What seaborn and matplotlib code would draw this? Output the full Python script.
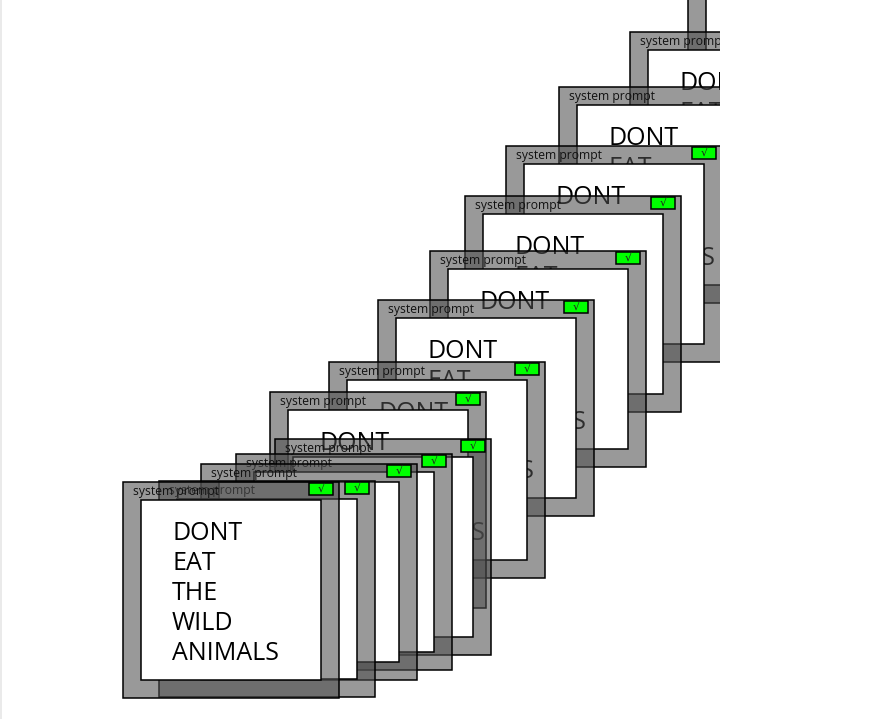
import matplotlib
matplotlib.use("Agg")
import matplotlib.pyplot as plt
from matplotlib.patches import Rectangle
import seaborn as sns

# window stack, front (index 0) to back
win_x = [123, 159, 201, 236, 275, 270, 329, 378, 430, 465, 506, 559, 630, 688]
win_y = [482, 481, 464, 454, 439, 392, 362, 300, 251, 196, 146, 87, 32, -25]
title_text = "system prompt"
button_text = "\u221a"
body_lines = ["DONT", "EAT", "THE", "WILD", "ANIMALS"]

sns.set_theme(style="white")
plt.rcParams['font.family'] = ['Open Sans', 'DejaVu Sans']

W = 216
B = 18
fig = plt.figure(figsize=(8.8, 7.19), dpi=100)
ax = fig.add_axes([0, 0, 720 / 880, 1])
ax.set_xlim(0, 720)
ax.set_ylim(719, 0)
ax.axis('off')

gray = (0.31, 0.31, 0.31, 0.58)
n = len(win_x)
for k in range(n - 1, -1, -1):
    x, y = win_x[k], win_y[k]
    z = (n - k) * 10
    ax.add_patch(Rectangle((x, y), W, W, facecolor=gray, edgecolor='black', lw=1.1, zorder=z))
    ax.add_patch(Rectangle((x + B, y + B), W - 2 * B, W - 2 * B, facecolor='white',
                           edgecolor='black', lw=1.1, zorder=z + 1))
    ax.text(x + 10, y + 13, title_text, fontsize=8.7, color='#111111', va='baseline',
            ha='left', zorder=z + 2, clip_on=True)
    ax.add_patch(Rectangle((x + 186, y + 0.5), 24, 12, facecolor='#00ff00',
                           edgecolor='black', lw=1.1, zorder=z + 2))
    ax.text(x + 198, y + 6.5, button_text, fontsize=8, color='#222222', va='center',
            ha='center', zorder=z + 3, clip_on=True, family=['DejaVu Sans'])
    for i, line in enumerate(body_lines):
        ax.text(x + 49, y + 58 + 30 * i, line, fontsize=18, color='black', va='baseline',
                ha='left', zorder=z + 3, clip_on=True)

ax.axvline(0.8, color='#e6e6e6', lw=1.2, zorder=0)

fig.savefig("out.png", dpi=100)
